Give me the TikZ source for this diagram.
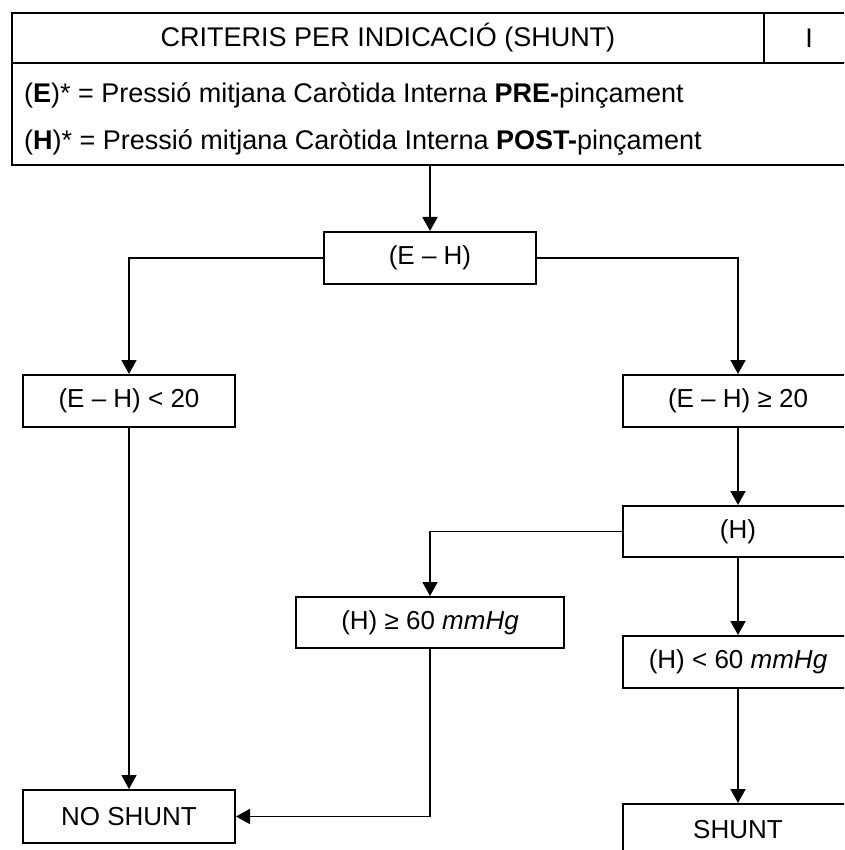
\documentclass[tikz,border=0pt]{standalone}
\usepackage{fontspec}
\setmainfont{Liberation Sans}
\usepackage{tikz}
\usetikzlibrary{positioning,arrows.meta}

\begin{document}
\begin{tikzpicture}[x=1pt,y=-1pt,
  box/.style={draw, line width=2pt, rectangle, inner sep=0pt, font=\fontsize{26}{31}\selectfont},
  arr/.style={line width=1.8pt, -{Triangle[width=15pt,length=14pt]}},
  txt/.style={inner sep=0pt, font=\fontsize{27}{32}\selectfont}]
\path[use as bounding box, clip] (0,0) rectangle (844,850);
% title and legend
\node[box, anchor=north west, minimum width=752, minimum height=50, font=\fontsize{27}{32}\selectfont] (title) at (11,12) {CRITERIS PER INDICACIÓ (SHUNT)};
\node[box, anchor=north west, minimum width=90, minimum height=50, font=\fontsize{27}{32}\selectfont] (num) at (763,12) {I};
\node[box, anchor=north west, minimum width=900, minimum height=102] (legend) at (11,62) {};
\node[txt, anchor=base west] (legE) at (24,103) {(\textbf{E})* = Pressió mitjana Caròtida Interna \textbf{PRE-}pinçament};
\node[txt, anchor=base west] (legH) at (24,150) {(\textbf{H})* = Pressió mitjana Caròtida Interna \textbf{POST-}pinçament};
% flow boxes
\node[box, minimum width=212, minimum height=52] (eh) at (430,258) {(E -- H)};
\node[box, minimum width=212, minimum height=52] (ehlt) at (129,401) {(E -- H) < 20};
\node[box, minimum width=230, minimum height=52] (ehge) at (738,401) {(E -- H) ≥ 20};
\node[box, minimum width=230, minimum height=51] (h) at (738,531.5) {(H)};
\node[box, minimum width=268, minimum height=51] (hge) at (430,622.5) {(H) ≥ 60 \textit{mmHg}};
\node[box, minimum width=230, minimum height=52] (hlt) at (738,662) {(H) < 60 \textit{mmHg}};
\node[box, minimum width=212, minimum height=53] (noshunt) at (129,816.5) {NO SHUNT};
\node[box, minimum width=230, minimum height=52] (shunt) at (738,830) {SHUNT};
% connectors
\draw[arr] (eh.north |- legend.south) -- (eh.north);
\draw[arr] (eh.west) -| (ehlt.north);
\draw[arr] (eh.east) -| (ehge.north);
\draw[arr] (ehge.south) -- (h.north);
\draw[arr] (h.west) -| (hge.north);
\draw[arr] (h.south) -- (hlt.north);
\draw[arr] (hlt.south) -- (shunt.north);
\draw[arr] (ehlt.south) -- (noshunt.north);
\draw[arr] (hge.south) |- (noshunt.east);
\end{tikzpicture}
\end{document}
